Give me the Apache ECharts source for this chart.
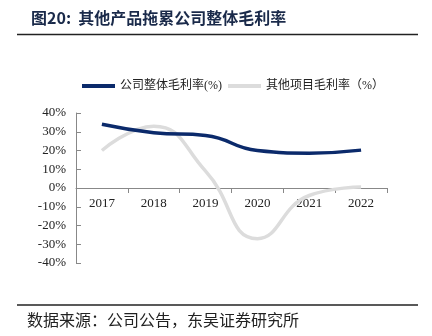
<!DOCTYPE html>
<html><head><meta charset="utf-8">
<script src="https://cdn.jsdelivr.net/npm/echarts@6/dist/echarts.min.js"></script>
<style>html,body{margin:0;padding:0;background:#fff}#c{width:432px;height:336px}</style>
</head><body><div id="c"></div>
<script>
const years = ['2017','2018','2019','2020','2021','2022'];
const companyMargin = [34, 29.5, 28, 20, 18.6, 20.2];
const otherMargin = [20, 33, 9, -27, -4, 0.5];
const yTicks = [-40, 40, 10];
const chart = echarts.init(document.getElementById('c'));
const serif = '"Liberation Serif","Noto Sans CJK SC",serif';
chart.setOption({
  animation: false,
  backgroundColor: '#fff',
  title: {
    text: '图20:  其他产品拖累公司整体毛利率',
    left: 26, top: 5,
    textStyle: {fontFamily: '"Noto Sans CJK SC"', fontSize: 16, fontWeight: 'bold', color: '#1a2a4a'}
  },
  graphic: [
    {type: 'line', shape: {x1: 17, y1: 34.5, x2: 418, y2: 34.5}, style: {stroke: '#222', lineWidth: 1.5}},
    {type: 'line', shape: {x1: 17, y1: 305, x2: 418, y2: 305}, style: {stroke: '#222', lineWidth: 1.5}},
    {type: 'text', left: 27, top: 312, style: {text: '数据来源：公司公告，东吴证券研究所', font: '16px "Noto Sans CJK SC"', fill: '#222'}}
  ],
  legend: {
    top: 75, left: 77,
    itemWidth: 33, itemHeight: 4, itemGap: 6,
    textStyle: {fontFamily: serif, fontSize: 12, color: '#222'},
    data: [
      {name: '公司整体毛利率(%)', icon: 'rect'},
      {name: '其他项目毛利率（%）', icon: 'rect'}
    ]
  },
  grid: {left: 76, right: 45, top: 113, bottom: 73, containLabel: false},
  xAxis: {
    type: 'category', data: years, boundaryGap: true,
    position: 'bottom', offset: -75,
    axisLine: {onZero: false, lineStyle: {color: '#888'}},
    axisTick: {show: true, lineStyle: {color: '#888'}, length: 5},
    axisLabel: {fontFamily: serif, fontSize: 13, color: '#222', margin: 9}
  },
  yAxis: {
    type: 'value', min: yTicks[0], max: yTicks[1], interval: yTicks[2],
    splitLine: {show: false},
    axisLine: {show: true, lineStyle: {color: '#888'}},
    axisTick: {show: true, inside: true, length: 5, lineStyle: {color: '#888'}},
    axisLabel: {formatter: '{value}%', fontFamily: serif, fontSize: 13, color: '#222', margin: 10}
  },
  series: [
    {name: '公司整体毛利率(%)', type: 'line', data: companyMargin, smooth: true, symbol: 'none',
     lineStyle: {width: 3.5, color: '#0b2a6b'}, itemStyle: {color: '#0b2a6b'}, z: 3},
    {name: '其他项目毛利率（%）', type: 'line', data: otherMargin, smooth: true, symbol: 'none',
     lineStyle: {width: 3.5, color: '#dcdcdc'}, itemStyle: {color: '#dcdcdc'}, z: 2}
  ]
});
</script></body></html>
